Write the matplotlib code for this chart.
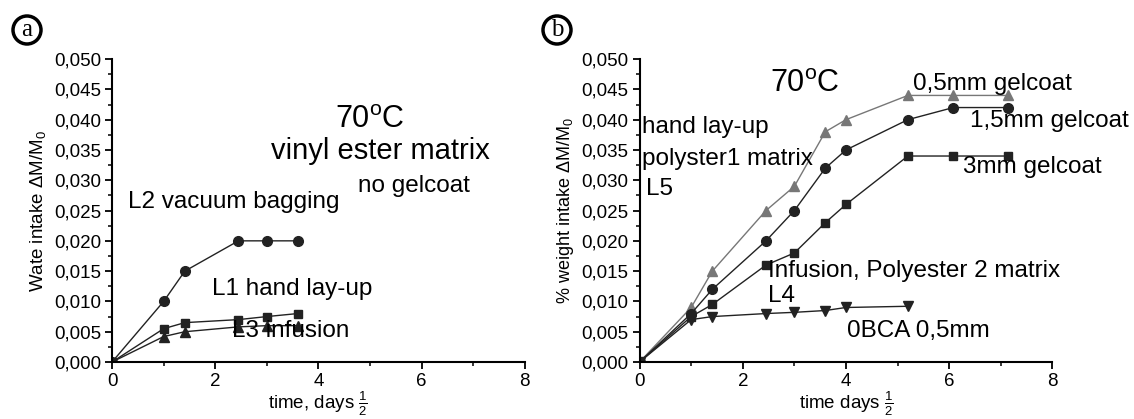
import numpy as np
import matplotlib
matplotlib.use("Agg")
import matplotlib.pyplot as plt
from matplotlib.ticker import MultipleLocator, FuncFormatter

plt.rcParams['font.family'] = ['Liberation Sans', 'DejaVu Sans']
plt.rcParams['mathtext.fontset'] = 'custom'
plt.rcParams['mathtext.rm'] = 'Liberation Sans'
plt.rcParams['mathtext.it'] = 'Liberation Sans'

# panel a: vinyl ester matrix, no gelcoat
t_a = [0, 1.0, 1.41, 2.45, 3.0, 3.6]
L2_vacuum = [0, 0.010, 0.015, 0.020, 0.020, 0.020]
L1_hand = [0, 0.0055, 0.0065, 0.0070, 0.0075, 0.0080]
L3_infusion = [0, 0.0042, 0.0050, 0.0058, 0.0060, 0.0060]

# panel b: polyester with gelcoat
t_b = [0, 1.0, 1.41, 2.45, 3.0, 3.6, 4.0, 5.2, 6.08, 7.14]
gel_05 = [0, 0.009, 0.015, 0.025, 0.029, 0.038, 0.040, 0.044, 0.044, 0.044]
gel_15 = [0, 0.008, 0.012, 0.020, 0.025, 0.032, 0.035, 0.040, 0.042, 0.042]
gel_3 = [0, 0.0075, 0.0095, 0.016, 0.018, 0.023, 0.026, 0.034, 0.034, 0.034]
t_bca = [0, 1.0, 1.41, 2.45, 3.0, 3.6, 4.0, 5.2]
bca_05 = [0, 0.0070, 0.0075, 0.0080, 0.0082, 0.0085, 0.0090, 0.0092]

fig = plt.figure(figsize=(11.34, 4.19), dpi=100)
ax1 = fig.add_axes([0.0988, 0.136, 0.364, 0.723])
ax2 = fig.add_axes([0.564, 0.136, 0.364, 0.723])

comma = FuncFormatter(lambda v, p: f"{v:.3f}".replace(".", ","))

for ax in (ax1, ax2):
    ax.set_xlim(0, 8)
    ax.set_ylim(0, 0.050)
    ax.spines['top'].set_visible(False)
    ax.spines['right'].set_visible(False)
    ax.spines['left'].set_linewidth(1.5)
    ax.spines['bottom'].set_linewidth(1.5)
    ax.xaxis.set_major_locator(MultipleLocator(2))
    ax.xaxis.set_minor_locator(MultipleLocator(1))
    ax.yaxis.set_major_locator(MultipleLocator(0.005))
    ax.yaxis.set_minor_locator(MultipleLocator(0.0025))
    ax.yaxis.set_major_formatter(comma)
    ax.tick_params(which='major', length=5, width=1.3, labelsize=13.5, pad=3)
    ax.tick_params(which='minor', length=3, width=1.1)

lc = '#222222'
ax1.plot(t_a, L2_vacuum, color=lc, lw=1, marker='o', ms=7)
ax1.plot(t_a, L1_hand, color=lc, lw=1, marker='s', ms=6)
ax1.plot(t_a, L3_infusion, color=lc, lw=1, marker='^', ms=7)
ax1.set_ylabel(r"Wate intake $\Delta$M/M$_0$", fontsize=13.5, labelpad=4)
ax1.set_xlabel(r"time, days $\frac{1}{2}$", fontsize=13.5, labelpad=0)

fs = 17.5
ax1.text(4.32, 0.0386, r"70$^{\mathregular{o}}$C", fontsize=22)
ax1.text(3.08, 0.0335, "vinyl ester matrix", fontsize=21)
ax1.text(4.77, 0.028, "no gelcoat", fontsize=fs)
ax1.text(0.31, 0.0254, "L2 vacuum bagging", fontsize=fs)
ax1.text(1.94, 0.0111, "L1 hand lay-up", fontsize=fs)
ax1.text(2.33, 0.0041, "L3 infusion", fontsize=fs)

gc = '#777777'
ax2.plot(t_b, gel_05, color=gc, lw=1, marker='^', ms=7)
ax2.plot(t_b, gel_15, color=lc, lw=1, marker='o', ms=7)
ax2.plot(t_b, gel_3, color=lc, lw=1, marker='s', ms=6)
ax2.plot(t_bca, bca_05, color=lc, lw=1, marker='v', ms=7)
ax2.set_ylabel(r"% weight intake $\Delta$M/M$_0$", fontsize=13, labelpad=4)
ax2.set_xlabel(r"time days $\frac{1}{2}$", fontsize=13.5, labelpad=0)

ax2.text(2.52, 0.0446, r"70$^{\mathregular{o}}$C", fontsize=22)
ax2.text(5.3, 0.0449, "0,5mm gelcoat", fontsize=fs)
ax2.text(6.41, 0.0388, "1,5mm gelcoat", fontsize=fs)
ax2.text(6.27, 0.0312, "3mm gelcoat", fontsize=fs)
ax2.text(0.04, 0.0378, "hand lay-up", fontsize=fs)
ax2.text(0.04, 0.0325, "polyster1 matrix", fontsize=fs)
ax2.text(0.13, 0.0276, "L5", fontsize=fs)
ax2.text(2.49, 0.0140, "Infusion, Polyester 2 matrix", fontsize=fs)
ax2.text(2.49, 0.0099, "L4", fontsize=fs)
ax2.text(4.02, 0.0041, "0BCA 0,5mm", fontsize=fs)

for xf, letter in [(27 / 1134, 'a'), (557 / 1134, 'b')]:
    fig.text(xf, 1 - 30 / 419, letter, fontsize=18, family='Liberation Serif', ha='center', va='center',
             bbox=dict(boxstyle='circle,pad=0.12', fc='white', ec='black', lw=2.5))

fig.savefig("out.png", dpi=100)
